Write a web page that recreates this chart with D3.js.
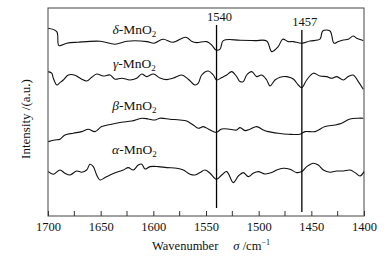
<!DOCTYPE html>
<html>
<head>
<meta charset="utf-8">
<script src="https://cdn.jsdelivr.net/npm/d3@7"></script>
<style>
  body { margin: 0; background: #fff; }
  text { font-family: "Liberation Serif", "Times New Roman", serif; fill: #111; }
</style>
</head>
<body>
<div id="chart"></div>
<script>
// spectra: [wavenumber, intensity (a.u.)]
const deltaMnO2 = [[1699.7,93.9],[1691.7,92.2],[1689.6,85.2],[1682.2,86.4],[1671.8,86.9],[1650.6,87.4],[1636.4,85.9],[1625.0,87.4],[1606.0,87.2],[1599.4,86.4],[1590.8,88.4],[1581.3,86.9],[1569.0,89.4],[1563.3,87.2],[1558.8,86.7],[1549.3,87.2],[1544.6,85.5],[1540.5,83.0],[1536.7,83.4],[1533.6,87.7],[1517.7,87.9],[1503.5,87.7],[1492.4,87.5],[1487.6,82.2],[1481.4,84.7],[1477.2,88.4],[1471.9,87.2],[1467.4,87.2],[1459.1,86.4],[1451.3,87.5],[1441.8,88.4],[1439.2,92.5],[1432.3,92.5],[1428.5,86.4],[1424.4,87.2],[1419.7,88.0],[1414.9,88.4],[1410.2,90.0],[1406.9,88.9],[1400.7,87.7]];
const gammaMnO2 = [[1699.7,72.2],[1696.5,71.4],[1695.0,69.0],[1691.7,65.5],[1688.6,66.7],[1685.5,68.0],[1680.7,70.5],[1674.4,70.4],[1668.0,68.4],[1663.3,67.5],[1658.5,69.4],[1653.8,71.0],[1647.5,70.0],[1641.1,70.5],[1636.4,68.4],[1630.0,68.9],[1622.2,68.0],[1615.8,68.9],[1611.0,71.0],[1606.3,69.7],[1600.0,71.0],[1593.7,69.0],[1587.3,68.2],[1581.0,69.0],[1573.1,70.5],[1566.8,68.4],[1560.4,65.5],[1557.3,66.4],[1554.1,70.5],[1547.8,72.5],[1543.1,70.5],[1539.8,68.0],[1535.1,69.2],[1530.3,70.5],[1525.6,72.2],[1520.9,69.7],[1517.7,67.2],[1514.6,67.2],[1511.4,70.5],[1506.6,72.2],[1501.9,69.7],[1497.1,70.5],[1492.4,68.0],[1489.2,65.0],[1484.5,68.0],[1479.7,69.4],[1473.4,69.7],[1467.1,68.5],[1462.4,65.5],[1459.1,64.2],[1454.4,68.0],[1448.1,71.4],[1441.8,70.0],[1435.4,69.7],[1430.7,68.9],[1425.9,69.7],[1419.7,68.0],[1414.9,69.7],[1410.2,70.5],[1405.4,67.2],[1400.7,63.4]];
const betaMnO2 = [[1699.7,37.2],[1693.4,38.0],[1688.6,38.4],[1683.9,40.5],[1676.0,41.4],[1668.0,42.2],[1661.7,43.4],[1655.4,42.2],[1649.0,44.7],[1639.5,45.9],[1630.0,46.9],[1620.5,47.5],[1611.0,48.9],[1604.8,48.5],[1598.4,48.0],[1593.7,48.9],[1584.2,48.4],[1574.7,48.0],[1568.3,47.5],[1562.1,45.5],[1557.3,43.9],[1552.6,44.7],[1547.8,43.5],[1543.1,42.2],[1539.8,41.9],[1535.1,43.5],[1527.2,43.4],[1520.9,43.0],[1517.7,44.2],[1513.0,42.7],[1508.2,43.4],[1501.9,44.7],[1495.6,43.0],[1490.9,42.2],[1481.4,41.4],[1471.9,40.9],[1460.8,40.9],[1456.0,42.2],[1446.5,42.2],[1437.0,44.7],[1427.5,45.5],[1421.2,46.4],[1413.3,48.5],[1405.4,48.9],[1400.7,48.9]];
const alphaMnO2 = [[1699.7,22.2],[1695.0,20.9],[1688.6,23.0],[1683.9,21.4],[1679.1,20.5],[1672.8,22.5],[1668.0,21.9],[1663.3,23.0],[1660.1,25.9],[1657.0,24.7],[1653.8,20.5],[1650.6,18.0],[1645.9,19.2],[1641.1,20.5],[1634.8,21.9],[1628.5,23.0],[1623.8,24.2],[1619.0,23.0],[1614.3,25.5],[1611.0,25.9],[1607.9,23.5],[1603.2,24.7],[1595.3,24.7],[1587.3,24.2],[1577.8,23.9],[1571.5,23.0],[1565.2,20.9],[1560.4,20.5],[1555.7,21.7],[1551.0,23.0],[1546.2,21.4],[1540.2,18.4],[1535.1,20.5],[1530.3,22.2],[1524.1,16.7],[1519.3,20.0],[1514.6,21.7],[1509.8,19.7],[1505.1,21.4],[1500.4,22.2],[1494.0,21.0],[1487.6,21.7],[1482.9,23.0],[1476.6,23.9],[1470.3,23.4],[1463.9,21.7],[1459.1,22.2],[1454.4,24.7],[1448.1,26.4],[1443.4,25.5],[1438.6,23.0],[1432.3,21.9],[1425.9,22.5],[1419.7,22.5],[1413.3,23.0],[1408.5,21.7],[1403.8,20.0],[1400.0,22.2]];

const seriesNames = ["δ", "γ", "β", "α"];
const seriesData = [deltaMnO2, gammaMnO2, betaMnO2, alphaMnO2];
const labelPos = [[1618, 91], [1618, 74], [1618, 53], [1618, 31]]; // [wavenumber, intensity] of each name

// marker lines: drawn position, printed label
const markerAt = [1540, 1459];
const markerLabels = ["1540", "1457"];
const markerTop = [95.5, 93];
const markerBottom = [4, 2];

const xTicks = [1700, 1650, 1600, 1550, 1500, 1450, 1400];
const xMinor = [1675, 1625, 1575, 1525, 1475, 1425];

// set the dimensions and margins of the graph
const margin = {top: 8, right: 23, bottom: 41, left: 48},
    width = 387 - margin.left - margin.right,
    height = 257 - margin.top - margin.bottom;

const svg = d3.select("#chart")
    .append("svg")
    .attr("width", 387)
    .attr("height", 257)
    .append("g")
    .attr("transform", `translate(${margin.left},${margin.top})`);

const x = d3.scaleLinear().domain([1700, 1400]).range([0, width]);
const y = d3.scaleLinear().domain([0, 104]).range([height, 0]);

// frame
svg.append("rect")
    .attr("width", width)
    .attr("height", height)
    .attr("fill", "none")
    .attr("stroke", "#444")
    .attr("stroke-width", 1);

// bottom axis, ticks pointing inward
const xAxis = svg.append("g")
    .attr("transform", `translate(0,${height})`)
    .call(d3.axisBottom(x).tickValues(xTicks).tickSize(-5).tickPadding(8).tickFormat(d3.format("d")));
xAxis.select(".domain").remove();
xAxis.selectAll("text").style("font-size", "12.5px").attr("dy", "0.71em").attr("y", 6);
xAxis.selectAll("line").attr("stroke", "#333");

svg.append("g")
    .selectAll("line")
    .data(xMinor)
    .join("line")
    .attr("x1", d => x(d)).attr("x2", d => x(d))
    .attr("y1", height).attr("y2", height - 5)
    .attr("stroke", "#333");

// axis titles
svg.append("text")
    .attr("transform", `translate(-18,${height / 2 + 7}) rotate(-90)`)
    .attr("text-anchor", "middle")
    .style("font-size", "13px")
    .text("Intensity /(a.u.)");

const xt = svg.append("text")
    .attr("x", 104)
    .attr("y", height + 34)
    .style("font-size", "12.5px");
xt.append("tspan").text("Wavenumber");
xt.append("tspan").attr("dx", 15).style("font-style", "italic").text("σ");
xt.append("tspan").text(" /cm");
xt.append("tspan").attr("dy", -5).style("font-size", "8px").text("−1");

// spectra
const line = d3.line()
    .x(d => x(d[0]))
    .y(d => y(d[1]))
    .curve(d3.curveCatmullRom.alpha(0.5));

svg.append("g")
    .selectAll("path")
    .data(seriesData)
    .join("path")
    .attr("d", line)
    .attr("fill", "none")
    .attr("stroke", "#111")
    .attr("stroke-width", 1.1);

// series names
seriesNames.forEach((name, i) => {
    const t = svg.append("text")
        .attr("x", x(labelPos[i][0]))
        .attr("y", y(labelPos[i][1]))
        .attr("text-anchor", "middle")
        .style("font-size", "13.5px");
    t.append("tspan").style("font-style", "italic").text(name);
    t.append("tspan").text("-MnO");
    t.append("tspan").attr("dy", 3).style("font-size", "9px").text("2");
});

// marker lines at 1540 and 1457
svg.append("g")
    .selectAll("line")
    .data(markerAt)
    .join("line")
    .attr("x1", d => x(d)).attr("x2", d => x(d))
    .attr("y1", (d, i) => y(markerTop[i]))
    .attr("y2", (d, i) => y(markerBottom[i]))
    .attr("stroke", "#000")
    .attr("stroke-width", 1.3);

svg.append("g")
    .selectAll("text")
    .data(markerLabels)
    .join("text")
    .attr("x", (d, i) => x(markerAt[i]) + 3)
    .attr("y", (d, i) => y(markerTop[i]) - 4)
    .attr("text-anchor", "middle")
    .style("font-size", "12.5px")
    .text(d => d);
</script>
</body>
</html>
